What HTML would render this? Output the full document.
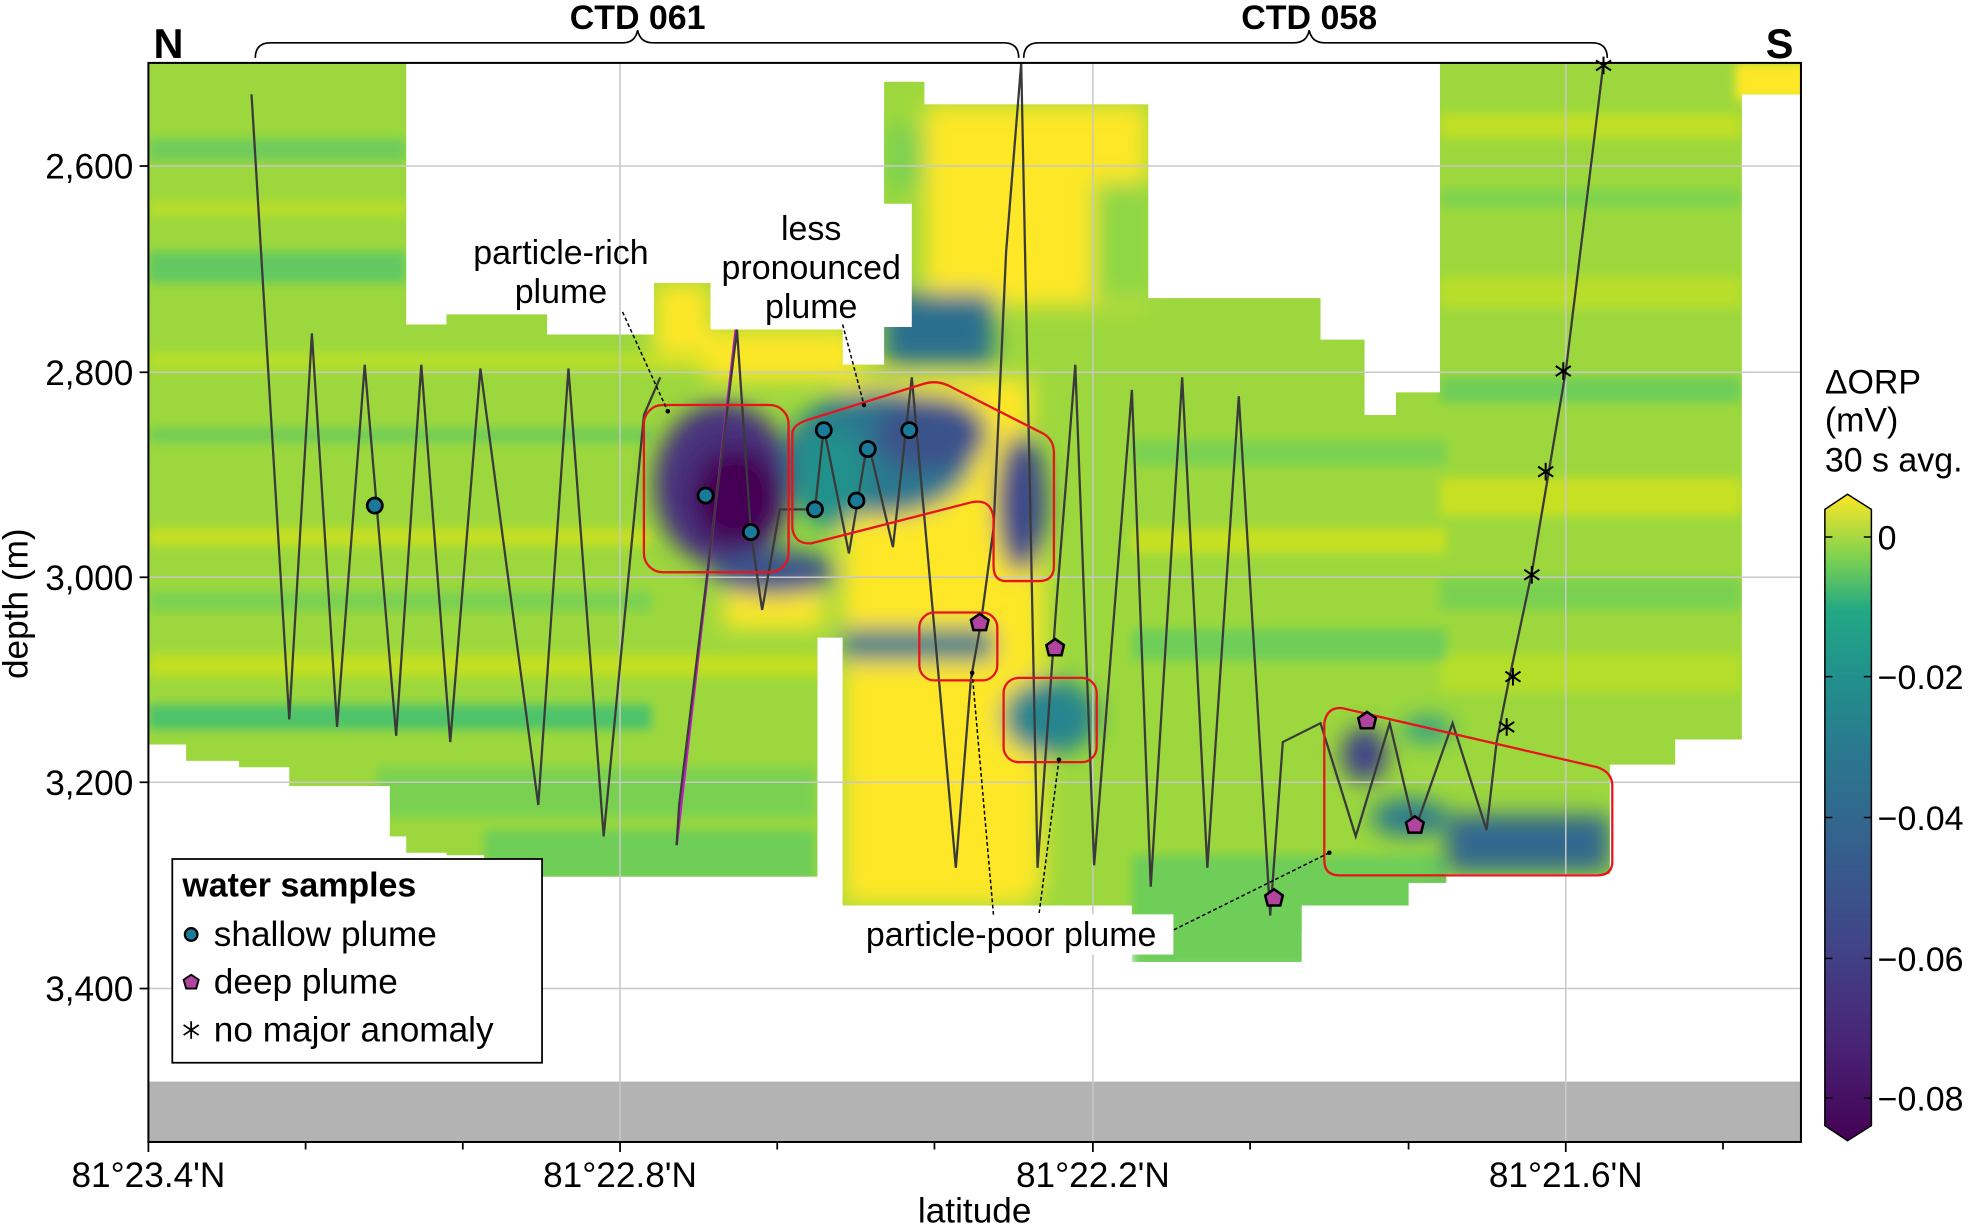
<!DOCTYPE html>
<html><head><meta charset="utf-8"><style>
html,body{margin:0;padding:0;background:#fff;}
svg{display:block;}
text{font-family:"Liberation Sans",Arial,sans-serif;}
</style></head><body>
<svg width="1972" height="1225" viewBox="0 0 1568 974" xmlns="http://www.w3.org/2000/svg">
<defs>
<clipPath id="data">
<rect x="118" y="50" width="205" height="542"/>
<rect x="148" y="580" width="42" height="25"/>
<rect x="190" y="580" width="40" height="30"/>
<rect x="230" y="580" width="80" height="45"/>
<rect x="310" y="580" width="75" height="85"/>
<rect x="385" y="580" width="263" height="117"/>
<rect x="323" y="258" width="32" height="420"/>
<rect x="355" y="250" width="80" height="430"/>
<rect x="435" y="266" width="90" height="430"/>
<rect x="520" y="225" width="45" height="470"/>
<rect x="560" y="262" width="88" height="435"/>
<rect x="560" y="480" width="90" height="217"/>
<rect x="648" y="262" width="22" height="245"/>
<rect x="670" y="290" width="170" height="430"/>
<rect x="703" y="65" width="32" height="240"/>
<rect x="735" y="83" width="178" height="220"/>
<rect x="790" y="230" width="123" height="490"/>
<rect x="840" y="237" width="210" height="483"/>
<rect x="900" y="600" width="135" height="165"/>
<rect x="1035" y="600" width="85" height="120"/>
<rect x="1050" y="270" width="35" height="430"/>
<rect x="1085" y="330" width="30" height="370"/>
<rect x="1110" y="312" width="40" height="390"/>
<rect x="1145" y="50" width="240" height="538"/>
<rect x="1145" y="580" width="187" height="28"/>
<rect x="1145" y="600" width="135" height="95"/>
<rect x="1380" y="50" width="52" height="25"/>
</clipPath>
<filter id="bl" x="-20%" y="-20%" width="140%" height="140%"><feGaussianBlur stdDeviation="9"/></filter>
<filter id="bl2" x="-20%" y="-20%" width="140%" height="140%"><feGaussianBlur stdDeviation="4"/></filter>
<linearGradient id="cb" x1="0" y1="1" x2="0" y2="0">
<stop offset="0" stop-color="#440154"/><stop offset="0.15" stop-color="#482475"/>
<stop offset="0.3" stop-color="#414487"/><stop offset="0.45" stop-color="#355f8d"/>
<stop offset="0.6" stop-color="#2a788e"/><stop offset="0.72" stop-color="#21918c"/>
<stop offset="0.82" stop-color="#22a884"/><stop offset="0.9" stop-color="#7ad151"/>
<stop offset="1" stop-color="#fde725"/>
</linearGradient>
</defs>

<g clip-path="url(#data)">
<rect x="100" y="40" width="1350" height="700" fill="#9cd83d"/>
<g filter="url(#bl2)">
<rect x="118" y="110" width="205" height="18" fill="#6fcc5a"/>
<rect x="118" y="160" width="205" height="12" fill="#b8de2a"/>
<rect x="118" y="200" width="205" height="25" fill="#62c960"/>
<rect x="118" y="280" width="600" height="14" fill="#b5de2b"/>
<rect x="118" y="340" width="400" height="12" fill="#72cd56"/>
<rect x="118" y="420" width="400" height="14" fill="#c6e020"/>
<rect x="118" y="470" width="400" height="16" fill="#7ad151"/>
<rect x="118" y="520" width="550" height="18" fill="#c2df23"/>
<rect x="118" y="560" width="400" height="20" fill="#4ec36b"/>
<rect x="300" y="610" width="348" height="40" fill="#7ad151"/>
<rect x="385" y="660" width="263" height="40" fill="#6ece58"/>
<rect x="1145" y="90" width="240" height="20" fill="#c0df25"/>
<rect x="1145" y="150" width="240" height="15" fill="#7fd34e"/>
<rect x="1145" y="220" width="240" height="25" fill="#b8de29"/>
<rect x="1145" y="300" width="240" height="20" fill="#6ece58"/>
<rect x="1145" y="380" width="240" height="30" fill="#c8e020"/>
<rect x="1145" y="460" width="240" height="25" fill="#7ad151"/>
<rect x="1145" y="520" width="240" height="30" fill="#b5de2b"/>
<rect x="900" y="350" width="250" height="20" fill="#7ad151"/>
<rect x="900" y="420" width="250" height="20" fill="#c6e020"/>
<rect x="900" y="500" width="250" height="25" fill="#6ece58"/>
<rect x="900" y="680" width="250" height="90" fill="#6ece58"/>
<rect x="1380" y="50" width="60" height="30" fill="#fde725"/>
</g>
<g filter="url(#bl)">
<rect x="735" y="83" width="178" height="160" fill="#fde725"/>
<rect x="705" y="100" width="30" height="50" fill="#7ad151"/>
<rect x="870" y="145" width="43" height="95" fill="#8fd744"/>
<rect x="670" y="300" width="150" height="420" fill="#fde725"/>
<rect x="790" y="380" width="40" height="330" fill="#fde725"/>
<rect x="520" y="225" width="45" height="60" fill="#fde725"/>
<rect x="560" y="262" width="120" height="40" fill="#fde725"/>
<rect x="575" y="470" width="80" height="30" fill="#fde725"/>
<rect x="703" y="233" width="87" height="57" fill="#2c6f8e"/>
<ellipse cx="575" cy="385" rx="55" ry="65" fill="#46337e"/>
<ellipse cx="585" cy="395" rx="35" ry="40" fill="#440154"/>
<ellipse cx="615" cy="455" rx="50" ry="18" fill="#3b528b"/>
<ellipse cx="700" cy="360" rx="75" ry="50" fill="#2a788e"/>
<ellipse cx="740" cy="345" rx="45" ry="30" fill="#3b528b"/>
<ellipse cx="660" cy="380" rx="30" ry="40" fill="#21918c"/>
<ellipse cx="812" cy="400" rx="20" ry="55" fill="#3e4a89"/>
<rect x="670" y="500" width="120" height="25" fill="#2a788e"/>
<ellipse cx="835" cy="570" rx="38" ry="30" fill="#25858e"/>
<ellipse cx="1085" cy="600" rx="18" ry="22" fill="#404387"/>
<rect x="1150" y="648" width="130" height="45" fill="#31688e"/>
<ellipse cx="1120" cy="650" rx="30" ry="15" fill="#2a788e"/>
<ellipse cx="1135" cy="580" rx="20" ry="10" fill="#2a9a8a"/>
</g>
</g>

<rect x="118" y="860" width="1314" height="48" fill="#b3b3b3"/>

<g stroke="#c8c8c8" stroke-width="1.2">
<line x1="118" y1="132" x2="1432" y2="132"/><line x1="118" y1="296" x2="1432" y2="296"/>
<line x1="118" y1="459" x2="1432" y2="459"/><line x1="118" y1="622" x2="1432" y2="622"/>
<line x1="118" y1="786" x2="1432" y2="786"/>
<line x1="493" y1="50" x2="493" y2="908"/><line x1="869" y1="50" x2="869" y2="908"/>
<line x1="1245" y1="50" x2="1245" y2="908"/>
</g>

<polyline fill="none" stroke="#3a3a3a" stroke-width="1.8" points="200,75 230,572 248,265 268,578 290,290 315,585 335,290 358,590 382,293 428,640 452,293 480,665 512,330 525,300"/>
<polyline fill="none" stroke="#c020c0" stroke-width="2" points="585,262 538,672"/>
<polyline fill="none" stroke="#3a3a3a" stroke-width="1.8" points="538,672 540,640 586,262 597,423 606,485 620,405 648,405 655,340 675,440 690,350 710,435 725,300 760,690 772,540 780,495 790,420 800,200 812,50 825,690 840,480 855,290 870,688 900,310 915,705 940,300 960,690 985,315 1010,728 1020,590 1050,575 1078,665 1105,575 1125,660 1155,575 1182,660 1190,590 1200,540 1218,455 1245,295 1275,50"/>

<g fill="none" stroke="#e8141a" stroke-width="1.8">
<rect x="512" y="322" width="115" height="133" rx="15"/>
<path d="M645,333 L735,305 Q745,302 755,307 L830,345 Q838,350 838,360 L838,450 Q838,462 826,462 L800,462 Q790,462 790,450 L790,412 Q788,395 770,400 L645,432 Q632,433 630,420 L630,345 Q630,337 645,333 Z"/>
<rect x="731" y="487" width="62" height="54" rx="12"/>
<rect x="798" y="539" width="74" height="67" rx="12"/>
<path d="M1067,563 L1270,610 Q1282,614 1282,625 L1282,685 Q1282,696 1270,696 L1065,696 Q1053,696 1053,684 L1053,575 Q1055,562 1067,563 Z"/>
</g>

<g fill="#1a7a9a" stroke="#000" stroke-width="2.2">
<circle cx="298" cy="402" r="6"/><circle cx="561" cy="394" r="6"/><circle cx="597" cy="423" r="6"/>
<circle cx="655" cy="342" r="6"/><circle cx="690" cy="357" r="6"/><circle cx="723" cy="342" r="6"/>
<circle cx="648" cy="405" r="6"/><circle cx="681" cy="398" r="6"/>
</g>
<g fill="#b0449e" stroke="#000" stroke-width="2">
<polygon points="779,488 786,493 784,501 774,501 772,493"/>
<polygon points="839,508 846,513 844,521 834,521 832,513"/>
<polygon points="1087,566 1094,571 1092,579 1082,579 1080,571"/>
<polygon points="1125,649 1132,654 1130,662 1120,662 1118,654"/>
<polygon points="1013,707 1020,712 1018,720 1008,720 1006,712"/>
</g>
<g stroke="#000" stroke-width="1.6">
<path d="M1275,45v14M1269,48l12,8M1281,48l-12,8"/>
<path d="M1243,288v14M1237,291l12,8M1249,291l-12,8"/>
<path d="M1229,368v14M1223,371l12,8M1235,371l-12,8"/>
<path d="M1218,450v14M1212,453l12,8M1224,453l-12,8"/>
<path d="M1203,531v14M1197,534l12,8M1209,534l-12,8"/>
<path d="M1198,571v14M1192,574l12,8M1204,574l-12,8"/>
</g>

<rect x="565" y="162" width="160" height="98" fill="#fff"/>
<rect x="673" y="727" width="260" height="32" fill="#fff"/>
<g stroke="#000" stroke-width="1.2" stroke-dasharray="3,2" fill="none">
<path d="M495,248 L531,327"/><path d="M670,258 L687,322"/>
<path d="M773,535 L790,728"/><path d="M842,604 L826,728"/><path d="M1057,678 L932,740"/>
</g>
<g fill="#000"><circle cx="531" cy="327" r="1.8"/><circle cx="687" cy="322" r="1.8"/><circle cx="773" cy="535" r="1.8"/><circle cx="842" cy="604" r="1.8"/><circle cx="1057" cy="678" r="1.8"/></g>
<g font-size="27" text-anchor="middle" fill="#000">
<text x="446" y="210">particle-rich</text><text x="446" y="241">plume</text>
<text x="645" y="191">less</text><text x="645" y="222">pronounced</text><text x="645" y="253">plume</text>
<text x="804" y="752">particle-poor plume</text>
</g>

<rect x="118" y="50" width="1314" height="858" fill="none" stroke="#000" stroke-width="1.6"/>
<g stroke="#000" stroke-width="1.4">
<line x1="118" y1="132" x2="111" y2="132"/><line x1="118" y1="296" x2="111" y2="296"/>
<line x1="118" y1="459" x2="111" y2="459"/><line x1="118" y1="622" x2="111" y2="622"/>
<line x1="118" y1="786" x2="111" y2="786"/>
<line x1="118" y1="908" x2="118" y2="916"/><line x1="243" y1="908" x2="243" y2="914"/>
<line x1="368" y1="908" x2="368" y2="914"/><line x1="493" y1="908" x2="493" y2="916"/>
<line x1="618" y1="908" x2="618" y2="914"/><line x1="743" y1="908" x2="743" y2="914"/>
<line x1="869" y1="908" x2="869" y2="916"/><line x1="994" y1="908" x2="994" y2="914"/>
<line x1="1120" y1="908" x2="1120" y2="914"/><line x1="1245" y1="908" x2="1245" y2="916"/>
<line x1="1370" y1="908" x2="1370" y2="914"/>
</g>
<g font-size="28" fill="#000">
<g text-anchor="end"><text x="106" y="142">2,600</text><text x="106" y="306">2,800</text>
<text x="106" y="469">3,000</text><text x="106" y="632">3,200</text><text x="106" y="796">3,400</text></g>
<g text-anchor="middle"><text x="118" y="944">81°23.4'N</text><text x="493" y="944">81°22.8'N</text>
<text x="869" y="944">81°22.2'N</text><text x="1245" y="944">81°21.6'N</text>
<text x="775" y="972">latitude</text></g>
<text transform="translate(22,480) rotate(-90)" text-anchor="middle">depth (m)</text>
</g>

<g font-weight="bold" fill="#000" text-anchor="middle">
<text x="507" y="23" font-size="27">CTD 061</text><text x="1041" y="23" font-size="27">CTD 058</text>
<text x="134" y="46" font-size="33">N</text><text x="1415" y="46" font-size="33">S</text>
</g>
<g fill="none" stroke="#000" stroke-width="1.3">
<path d="M203,46 Q203,34 215,34 L495,34 Q505,34 507,24 Q509,34 519,34 L798,34 Q810,34 810,46"/>
<path d="M814,46 Q814,34 826,34 L1029,34 Q1039,34 1041,24 Q1043,34 1053,34 L1266,34 Q1278,34 1278,46"/>
</g>

<rect x="137" y="683" width="294" height="162" fill="#fff" stroke="#000" stroke-width="1.4"/>
<text x="145" y="713" font-size="27" font-weight="bold">water samples</text>
<circle cx="152" cy="743" r="5" fill="#1a7a9a" stroke="#000" stroke-width="1.8"/>
<polygon points="152,775 158,779 156,786 148,786 146,779" fill="#b0449e" stroke="#000" stroke-width="1.5"/>
<path d="M152,812v14M146,815l12,8M158,815l-12,8" stroke="#000" stroke-width="1.4"/>
<g font-size="28"><text x="170" y="752">shallow plume</text><text x="170" y="790">deep plume</text><text x="170" y="828">no major anomaly</text></g>

<g font-size="27" fill="#000">
<text x="1451" y="313">ΔORP</text><text x="1451" y="343">(mV)</text><text x="1451" y="375">30 s avg.</text>
<text x="1493" y="437">0</text><text x="1493" y="548">−0.02</text><text x="1493" y="660">−0.04</text>
<text x="1493" y="772">−0.06</text><text x="1493" y="883">−0.08</text>
</g>
<path d="M1451,405 L1469,393 L1488,405 L1488,895 L1469,907 L1451,895 Z" fill="url(#cb)" stroke="#000" stroke-width="1.2"/>
<g stroke="#000" stroke-width="1.2">
<path d="M1451,427h6M1482,427h6M1451,538h6M1482,538h6M1451,650h6M1482,650h6M1451,762h6M1482,762h6M1451,873h6M1482,873h6"/>
</g>
</svg>
</body></html>
